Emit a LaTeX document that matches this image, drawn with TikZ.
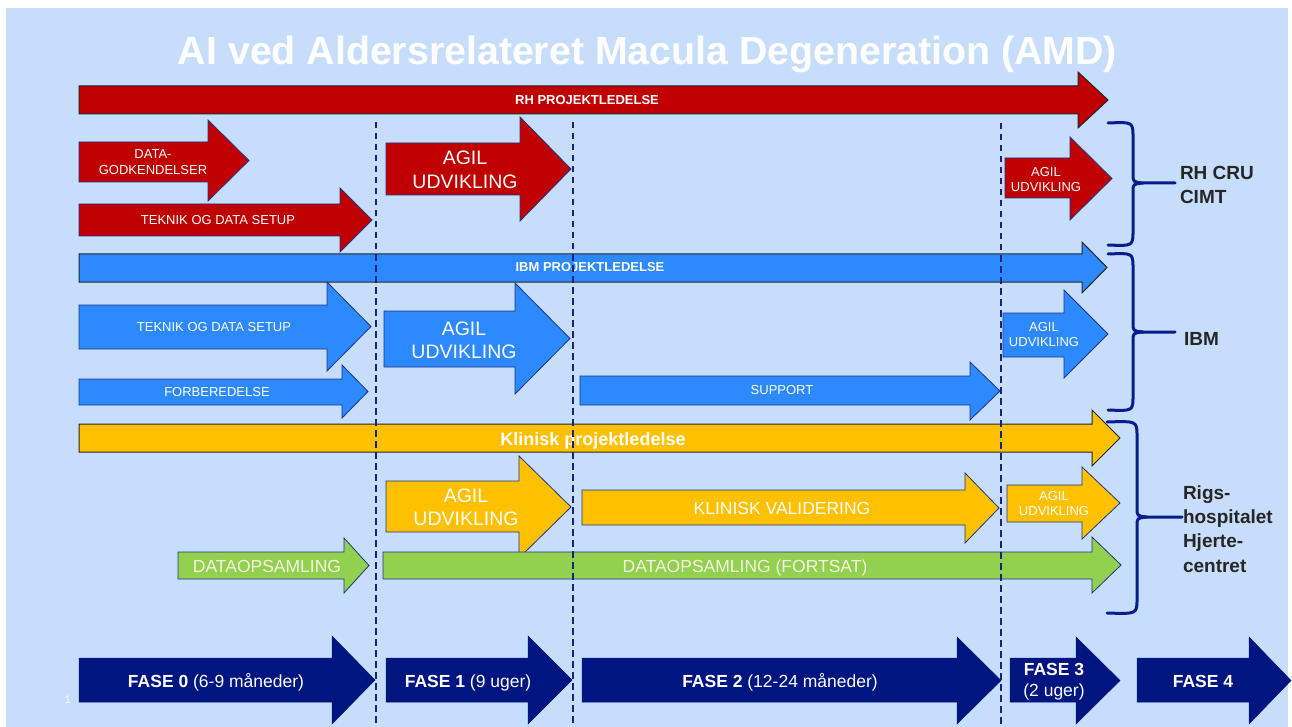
\documentclass[tikz,border=0pt]{standalone}
\usepackage{fontspec}
\setmainfont{Liberation Sans}
\definecolor{bgblue}{RGB}{198,222,252}
\definecolor{rhred}{RGB}{192,0,0}
\definecolor{ibmblue}{RGB}{45,137,255}
\definecolor{klinyellow}{RGB}{255,192,0}
\definecolor{datagreen}{RGB}{146,208,80}
\definecolor{fasenavy}{RGB}{0,21,128}
\definecolor{outlinenavy}{RGB}{30,50,140}
\definecolor{dashnavy}{RGB}{22,36,125}
\definecolor{bracenavy}{RGB}{8,28,140}
\definecolor{labelgray}{RGB}{38,38,38}
\definecolor{greentext}{RGB}{245,245,225}
\tikzset{
  thinout/.style={draw=outlinenavy, line width=0.8pt, line join=miter},
  barout/.style={draw=black!85, line width=1pt, line join=miter},
  redarrow/.style={thinout, fill=rhred},
  redbar/.style={barout, fill=rhred},
  bluearrow/.style={thinout, fill=ibmblue},
  bluebar/.style={barout, fill=ibmblue},
  yellowarrow/.style={thinout, fill=klinyellow},
  yellowbar/.style={barout, fill=klinyellow},
  greenarrow/.style={thinout, fill=datagreen},
  fasearrow/.style={draw=fasenavy, line width=0.5pt, fill=fasenavy},
  lbltxt/.style={inner sep=0pt, outer sep=0pt, text=white},
  sidelbl/.style={inner sep=0pt, outer sep=0pt, text=labelgray, anchor=west, align=left,
    font={\fontsize{19}{24.3}\selectfont\bfseries}},
  dashline/.style={draw=dashnavy, line width=2pt, dash pattern=on 6.5pt off 4.5pt},
  bracepath/.style={draw=bracenavy, line width=3pt, line cap=round, line join=round},
}
% body x1..x2, tip x3, body ytop..ybot, head htop..hbot, style
\newcommand\myarrow[8]{\draw[#8] (#1,#4) -- (#2,#4) -- (#2,#6) -- (#3,{(#6+#7)/2}) -- (#2,#7) -- (#2,#5) -- (#1,#5) -- cycle;}
% single line label: name, x, y-center, size, text
\newcommand\lbl[5]{\node[lbltxt, anchor=base, font={\fontsize{#4}{#4}\selectfont}] (#1) at (#2,{#3+0.358*#4}) {#5};}
% multi line label: name, x, y-center, size, skip, text
\newcommand\lblm[6]{\node[lbltxt, align=center, anchor=center, font={\fontsize{#4}{#5}\selectfont}] (#1) at (#2,#3) {#6};}
% brace: left x, vertical x, tip x, top y, mid y, bottom y
\newcommand\mybrace[6]{\draw[bracepath] (#1,#4) .. controls (#2,{#4-1}) .. (#2,{#4+14}) -- (#2,{#5-9}) .. controls (#2,{#5-1}) .. ({#2+10},#5) -- (#3,#5);
  \draw[bracepath] (#1,#6) .. controls (#2,{#6+1}) .. (#2,{#6-14}) -- (#2,{#5+9}) .. controls (#2,{#5+1}) .. ({#2+10},#5);}
\begin{document}
\begin{tikzpicture}[x=1pt, y=-1pt]
\useasboundingbox (0,0) rectangle (1292,727);
\fill[white] (0,0) rectangle (1292,727);
\fill[bgblue] (6,8) rectangle (1288,727);

% title
\node[lbltxt, anchor=base, font={\fontsize{39.3}{39.3}\selectfont\bfseries}] (title) at (647.5,65) {AI ved Aldersrelateret Macula Degeneration (AMD)};

% RH row
\myarrow{79}{1078}{1108}{86}{114}{72}{128}{redbar}
\lbl{rhpl}{587}{100}{13}{\bfseries RH PROJEKTLEDELSE}
\myarrow{79}{208}{249}{142}{182}{120}{201}{redarrow}
\lblm{datagod}{153}{162}{13}{16.5}{DATA-\\GODKENDELSER}
\myarrow{79}{340}{372}{204}{236}{188}{252}{redarrow}
\lbl{rhteknik}{218}{220}{13}{TEKNIK OG DATA SETUP}
\myarrow{386}{520}{571}{143}{195}{117}{221}{redarrow}
\lblm{rhagil}{465}{170}{19.5}{24}{AGIL\\UDVIKLING}
\myarrow{1005}{1070}{1112}{158}{198}{137}{220}{redarrow}
\lblm{rhagilb}{1046}{179.5}{13}{15}{AGIL\\UDVIKLING}

% IBM row
\myarrow{79}{1082}{1107}{254}{282}{242}{293}{bluebar}
\lbl{ibmpl}{590}{267}{13}{\bfseries IBM PROJEKTLEDELSE}
\myarrow{79}{327}{371}{305}{349}{282}{371}{bluearrow}
\lbl{ibmteknik}{214}{327}{13}{TEKNIK OG DATA SETUP}
\myarrow{384}{515}{570}{311}{367}{283}{394}{bluearrow}
\lblm{ibmagil}{464}{340.5}{19.5}{23}{AGIL\\UDVIKLING}
\myarrow{79}{342}{368}{379}{405}{365}{418}{bluearrow}
\lbl{forb}{217}{392}{13}{FORBEREDELSE}
\myarrow{580}{970}{1000}{376}{405}{362}{420}{bluearrow}
\lbl{support}{782}{390}{13}{SUPPORT}
\myarrow{1003}{1064}{1108}{313}{357}{290}{378}{bluearrow}
\lblm{ibmagilb}{1044}{334.5}{13}{15}{AGIL\\UDVIKLING}

% Rigshospitalet row
\myarrow{79}{1092}{1120}{424}{452}{410}{466}{yellowbar}
\lbl{klinpl}{593}{439}{18}{\bfseries Klinisk projektledelse}
\myarrow{386}{519}{571}{481}{532}{456}{558}{yellowarrow}
\lblm{klinagil}{466}{507.5}{19.5}{23}{AGIL\\UDVIKLING}
\myarrow{582}{965}{999}{490}{525}{473}{543}{yellowarrow}
\lbl{klinval}{782}{508}{17.5}{KLINISK VALIDERING}
\myarrow{1007}{1082}{1120}{485}{522}{467}{539}{yellowarrow}
\lblm{klinagilb}{1054}{503.5}{13}{15}{AGIL\\UDVIKLING}
\myarrow{178}{344}{369}{552}{579}{538}{593}{greenarrow}
\node[lbltxt, anchor=base, text=greentext, font={\fontsize{17.5}{17.5}\selectfont}] (dataops) at (267,{566+0.358*17.5}) {DATAOPSAMLING};
\myarrow{383}{1092}{1121}{552}{579}{537}{593}{greenarrow}
\node[lbltxt, anchor=base, text=greentext, font={\fontsize{17.5}{17.5}\selectfont}] (dataopsf) at (745,{566+0.358*17.5}) {DATAOPSAMLING (FORTSAT)};

% phases
\myarrow{79}{332}{375}{658}{702}{636}{724}{fasearrow}
\lbl{fase0}{216}{681}{17.5}{{\bfseries FASE 0} (6-9 måneder)}
\myarrow{386}{528}{572}{658}{702}{636}{724}{fasearrow}
\lbl{fase1}{468}{681}{17.5}{{\bfseries FASE 1} (9 uger)}
\myarrow{582}{957}{1001}{658}{702}{637}{724}{fasearrow}
\lbl{fase2}{780}{681}{17.5}{{\bfseries FASE 2} (12-24 måneder)}
\myarrow{1010}{1076}{1120}{658}{702}{637}{724}{fasearrow}
\lblm{fase3}{1054}{682}{17.5}{21}{{\bfseries FASE 3}\\(2 uger)}
\myarrow{1137}{1249}{1291}{658}{702}{637}{724}{fasearrow}
\lbl{fase4}{1203}{681}{17.5}{\bfseries FASE 4}
\node[lbltxt, anchor=base, text=white!85!bgblue, font={\fontsize{11}{11}\selectfont}] (slidenum) at (68,703) {1};

% dashed phase separators
\coordinate (d1t) at (376,122); \coordinate (d1b) at (376,727);
\coordinate (d2t) at (573,122); \coordinate (d2b) at (573,727);
\coordinate (d3t) at (1001,123); \coordinate (d3b) at (1001,727);
\draw[dashline] (d1t) -- (d1b);
\draw[dashline] (d2t) -- (d2b);
\draw[dashline] (d3t) -- (d3b);

% braces and group labels
\mybrace{1108}{1133}{1175}{123}{183}{245}
\node[sidelbl] (rhcru) at (1180,185) {RH CRU\\CIMT};
\mybrace{1108}{1133}{1175}{254}{332}{410}
\node[sidelbl] (ibm) at (1184,339) {IBM};
\mybrace{1107}{1137}{1182}{422}{517}{613}
\node[sidelbl] (rigs) at (1183,529) {Rigs-\\hospitalet\\Hjerte-\\centret};
\end{tikzpicture}
\end{document}
